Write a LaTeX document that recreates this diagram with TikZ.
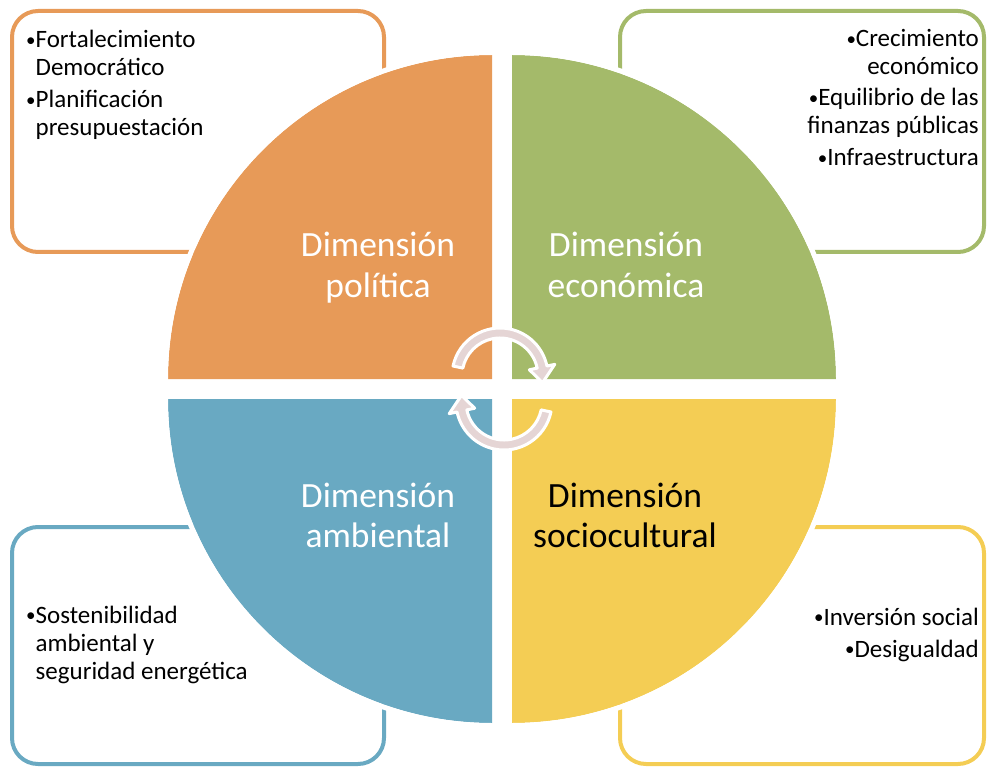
\documentclass[tikz,border=0pt]{standalone}
\usepackage{fontspec}
\setmainfont{Carlito}
\usetikzlibrary{calc}
\definecolor{corange}{HTML}{E79A58}
\definecolor{cgreen}{HTML}{A4BA6A}
\definecolor{cblue}{HTML}{69A9C2}
\definecolor{cyellow}{HTML}{F4CD54}
\definecolor{arrowfill}{HTML}{E5D5D5}
\newcommand{\mybul}{\raisebox{1.5pt}{\fontsize{19}{19}\selectfont\textbullet}}
\begin{document}
\begin{tikzpicture}[x=1pt,y=-1pt,
  box/.style={rounded corners=26pt, line width=4pt},
  dimlabel/.style={font=\fontsize{35.5}{40}\selectfont, inner sep=0pt, anchor=base},
  itemtext/.style={font=\fontsize{25}{28}\selectfont, inner sep=0pt},
  cyclearrow/.style={fill=arrowfill, draw=white, line width=3pt, line join=round},
  rim/.style={draw=white, line width=5pt}
]
\useasboundingbox (0,0) rectangle (987,767);

% side boxes
\draw[box, draw=corange] (12,11) rectangle (384,252);
\draw[box, draw=cgreen] (620,11) rectangle (984,252);
\draw[box, draw=cblue] (12,527) rectangle (384,764);
\draw[box, draw=cyellow] (620,527) rectangle (984,764);

% quadrants
\coordinate (qtl) at (492,379);
\coordinate (qtr) at (512,379);
\coordinate (qbl) at (492,399);
\coordinate (qbr) at (512,399);
\fill[corange] (qtl) -- ++(180:324pt) arc[start angle=180,end angle=90,radius=324pt] -- cycle;
\fill[cgreen] (qtr) -- ++(90:324pt) arc[start angle=90,end angle=0,radius=324pt] -- cycle;
\fill[cblue] (qbl) -- ++(180:324pt) arc[start angle=180,end angle=270,radius=324pt] -- cycle;
\fill[cyellow] (qbr) -- ++(270:324pt) arc[start angle=270,end angle=360,radius=324pt] -- cycle;
\draw[rim] ($(qtl)+(180:326.5pt)$) arc[start angle=180,end angle=90,radius=326.5pt];
\draw[rim] ($(qtr)+(90:326.5pt)$) arc[start angle=90,end angle=0,radius=326.5pt];
\draw[rim] ($(qbl)+(180:326.5pt)$) arc[start angle=180,end angle=270,radius=326.5pt];
\draw[rim] ($(qbr)+(270:326.5pt)$) arc[start angle=270,end angle=360,radius=326.5pt];

% labels
\node[dimlabel, text=white] (pol) at (378,257) {\begin{tabular}[t]{@{}c@{}}Dimensión\\política\end{tabular}};
\node[dimlabel, text=white] (eco) at (626,257) {\begin{tabular}[t]{@{}c@{}}Dimensión\\económica\end{tabular}};
\node[dimlabel, text=white] (amb) at (378,507) {\begin{tabular}[t]{@{}c@{}}Dimensión\\ambiental\end{tabular}};
\node[dimlabel, text=black] (soc) at (625,507) {\begin{tabular}[t]{@{}c@{}}Dimensión\\sociocultural\end{tabular}};

% cycle arrows
\coordinate (c1) at (500,376);
\coordinate (c2) at (504,402);
\path[cyclearrow] ($(c1)+(168:48pt)$) arc[start angle=168,end angle=12,radius=48pt]
  -- ($(c1)+(12:56pt)$) -- ($(c1)+(-9:43pt)$) -- ($(c1)+(12:30pt)$)
  -- ($(c1)+(12:38pt)$) arc[start angle=12,end angle=168,radius=38pt] -- cycle;
\path[cyclearrow] ($(c2)+(-12:48pt)$) arc[start angle=-12,end angle=-168,radius=48pt]
  -- ($(c2)+(-168:56pt)$) -- ($(c2)+(-189:43pt)$) -- ($(c2)+(-168:30pt)$)
  -- ($(c2)+(-168:38pt)$) arc[start angle=-168,end angle=-12,radius=38pt] -- cycle;

% item texts
\node[itemtext, anchor=base west] (p1) at (26,48) {\begin{tabular}[t]{@{}l@{}}\mybul Fortalecimiento\\\phantom{\mybul}Democrático\end{tabular}};
\node[itemtext, anchor=base west] (p2) at (26,108) {\begin{tabular}[t]{@{}l@{}}\mybul Planificación\\\phantom{\mybul}presupuestación\end{tabular}};
\node[itemtext, anchor=base east] (e1) at (979,47) {\begin{tabular}[t]{@{}r@{}}\mybul Crecimiento\\económico\end{tabular}};
\node[itemtext, anchor=base east] (e2) at (979,106) {\begin{tabular}[t]{@{}r@{}}\mybul Equilibrio de las\\finanzas públicas\end{tabular}};
\node[itemtext, anchor=base east] (e3) at (979,166) {\mybul Infraestructura};
\node[itemtext, anchor=base west] (a1) at (26,623) {\begin{tabular}[t]{@{}l@{}}\mybul Sostenibilidad\\\phantom{\mybul}ambiental y\\\phantom{\mybul}seguridad energética\end{tabular}};
\node[itemtext, anchor=base east] (s1) at (979,625) {\mybul Inversión social};
\node[itemtext, anchor=base east] (s2) at (979,657) {\mybul Desigualdad};
\end{tikzpicture}
\end{document}
